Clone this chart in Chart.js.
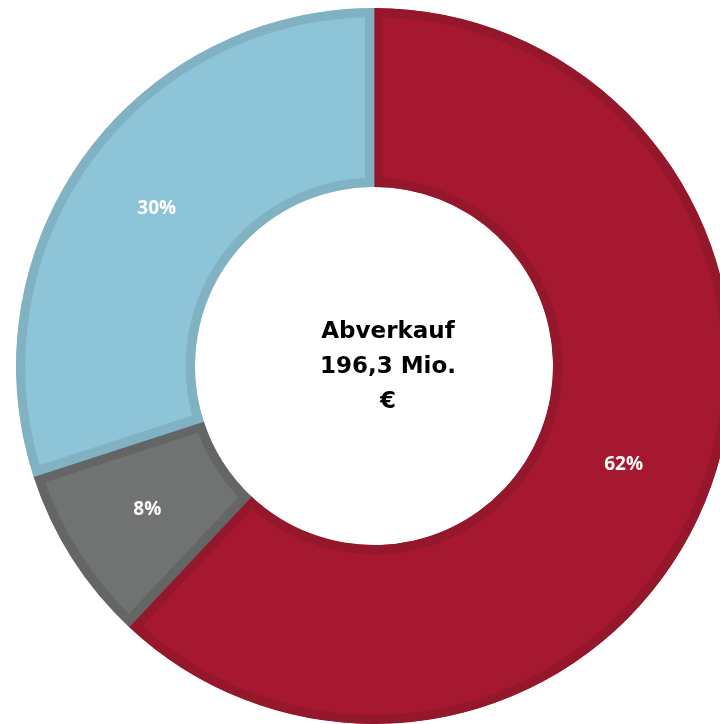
<!DOCTYPE html>
<html>
<head>
<meta charset="utf-8">
<script src="https://cdn.jsdelivr.net/npm/chart.js@4.4.1/dist/chart.umd.min.js"></script>
<style>
  html, body { margin: 0; padding: 0; background: #fff; overflow: hidden; }
  #wrap { position: relative; width: 748px; height: 724px; }
</style>
</head>
<body>
<div id="wrap"><canvas id="abverkauf"></canvas></div>
<script>
// Anteile am Abverkauf (im Uhrzeigersinn ab 12 Uhr)
const segmentLabels = ['Rot', 'Grau', 'Blau'];
const segmentValues = [62, 8, 30];
const segmentColors = ['#a5182f', '#717372', '#8dc4d7'];
const segmentBorders = ['#95172c', '#636665', '#80b2c4'];
const centerLines = ['Abverkauf', '196,3 Mio.', '€'];

// Prozentwerte in die Mitte jedes Segments schreiben
const pctLabels = {
    id: 'pctLabels',
    afterDatasetsDraw(chart) {
        const { ctx } = chart;
        const meta = chart.getDatasetMeta(0);
        ctx.save();
        ctx.fillStyle = '#ffffff';
        ctx.font = 'bold 19px "Open Sans", sans-serif';
        ctx.textAlign = 'center';
        ctx.textBaseline = 'middle';
        meta.data.forEach((arc, i) => {
            const p = arc.tooltipPosition();
            ctx.fillText(segmentValues[i] + '%', p.x, p.y);
        });
        ctx.restore();
    }
};

// Text im Loch des Donuts (im Original leicht nach rechts versetzt)
const centerText = {
    id: 'centerText',
    afterDraw(chart) {
        const { ctx, chartArea } = chart;
        const cx = (chartArea.left + chartArea.right) / 2 + 14;
        const cy = (chartArea.top + chartArea.bottom) / 2 + 1;
        const lh = 35;
        ctx.save();
        ctx.fillStyle = '#000000';
        ctx.font = 'bold 23px "DejaVu Sans", sans-serif';
        ctx.textAlign = 'center';
        ctx.textBaseline = 'middle';
        centerLines.forEach((line, i) => {
            ctx.fillText(line, cx, cy + (i - 1) * lh);
        });
        ctx.restore();
    }
};

new Chart(document.getElementById('abverkauf'), {
    type: 'doughnut',
    data: {
        labels: segmentLabels,
        datasets: [{
            data: segmentValues,
            backgroundColor: segmentColors,
            borderColor: segmentBorders,
            borderWidth: 9,
            borderAlign: 'inner',
            hoverOffset: 0
        }]
    },
    options: {
        responsive: true,
        maintainAspectRatio: false,
        animation: false,
        cutout: '50%',
        layout: { padding: { left: 16, right: 16, top: 8, bottom: 0 } },
        plugins: {
            legend: { display: false },
            tooltip: { enabled: false }
        }
    },
    plugins: [pctLabels, centerText]
});
</script>
</body>
</html>
